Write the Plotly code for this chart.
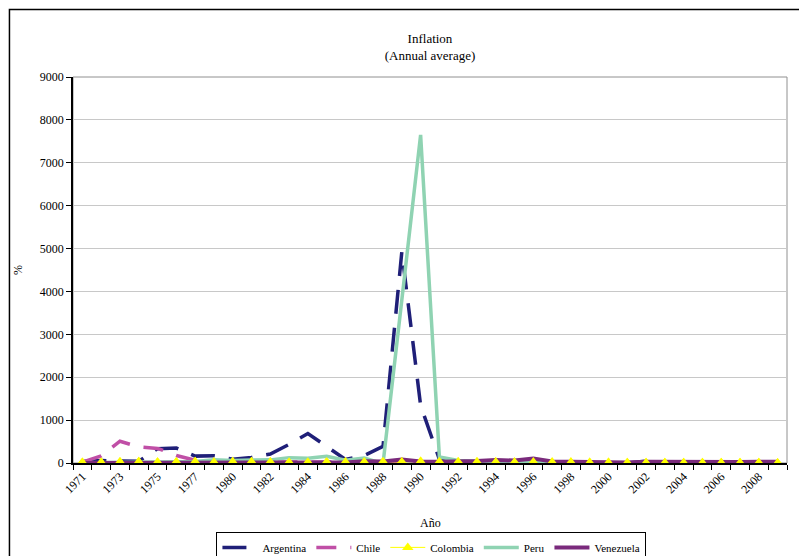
import plotly.graph_objects as go

# categories (1979 is not in the source series)
years = [str(y) for y in range(1971, 1979)] + [str(y) for y in range(1980, 2010)]
tick_labels = ["1971", "", "1973", "", "1975", "", "1977", "",
               "1980", "", "1982", "", "1984", "", "1986", "", "1988", "",
               "1990", "", "1992", "", "1994", "", "1996", "", "1998", "",
               "2000", "", "2002", "", "2004", "", "2006", "", "2008", ""]

argentina = [34.7, 58.5, 43.8, 40.1, 335.0, 347.5, 160.4, 169.8,
             87.6, 131.3, 209.7, 433.7, 688.0, 385.4, 81.9, 174.8, 387.7, 4923.3, 1343.9, 84.0,
             17.5, 7.4, 3.9, 1.6, 0.1, 0.3, 0.7, -1.8, -0.7, -1.5, 41.0, 3.7, 6.1, 12.3, 9.8, 8.5, 7.2, 7.7]
chile = [22.1, 163.4, 508.1, 375.9, 340.7, 174.3, 63.5, 30.3,
         31.2, 9.5, 20.7, 23.1, 23.0, 26.4, 17.4, 21.5, 12.7, 21.4, 27.3, 18.7,
         12.7, 12.2, 8.9, 8.2, 6.6, 6.0, 4.7, 2.3, 4.5, 2.6, 2.8, 1.1, 2.4, 3.7, 2.6, 7.8, 7.1, -1.4]
colombia = [14.1, 14.0, 25.0, 26.9, 17.9, 25.9, 29.3, 17.8,
            26.5, 26.4, 24.0, 16.6, 18.3, 22.5, 20.9, 24.0, 28.1, 26.1, 32.4, 26.8,
            25.1, 22.6, 22.6, 19.5, 21.6, 17.7, 16.7, 9.2, 8.8, 7.6, 7.0, 6.5, 5.5, 4.9, 4.5, 5.7, 7.7, 2.0]
peru = [7.7, 4.3, 13.8, 19.2, 24.0, 44.7, 32.4, 73.7,
        59.7, 72.7, 72.9, 125.1, 111.5, 158.3, 62.9, 114.5, -15.0, 3800.0, 7649.6, 139.2,
        56.7, 39.5, 15.4, 10.2, 11.8, 6.5, 6.0, 3.7, 3.7, -0.1, 1.5, 2.5, 3.5, 1.5, 1.1, 3.9, 6.7, 0.2]
venezuela = [2.6, 3.5, 5.1, 11.6, 8.0, 6.9, 8.1, 7.1,
             19.6, 11.0, 7.9, 7.0, 18.3, 5.7, 12.7, 40.3, 35.5, 81.0, 36.5, 31.0,
             31.9, 45.9, 70.8, 56.6, 103.2, 37.6, 29.9, 20.0, 13.4, 12.3, 31.2, 27.1, 19.2, 14.4, 17.0, 22.5, 31.9, 26.9]

serif = "Liberation Serif"
yellow = "#FFFF00"

fig = go.Figure()
fig.add_trace(go.Scatter(x=years, y=argentina, name="Argentina", mode="lines",
                         line=dict(color="#1F1F78", width=3.5, dash="24px,14px")))
fig.add_trace(go.Scatter(x=years, y=chile, name="Chile", mode="lines",
                         line=dict(color="#C04FA6", width=3.5, dash="20px,14px")))
fig.add_trace(go.Scatter(x=years, y=colombia, name="Colombia", mode="lines+markers",
                         line=dict(color=yellow, width=1),
                         marker=dict(symbol="triangle-up", size=10, color=yellow)))
fig.add_trace(go.Scatter(x=years, y=peru, name="Peru", mode="lines",
                         line=dict(color="#8FD3B2", width=3.5)))
fig.add_trace(go.Scatter(x=years, y=venezuela, name="Venezuela", mode="lines",
                         line=dict(color="#7A2A7C", width=4)))
# triangles sit on top of the other lines
fig.add_trace(go.Scatter(x=years, y=colombia, mode="markers", showlegend=False, hoverinfo="skip",
                         marker=dict(symbol="triangle-up", size=10, color=yellow)))

# page body has an 8px margin, so the figure is a bit smaller than the window
fig.update_layout(
    width=799, height=548,
    margin=dict(l=65, r=20, t=69, b=93),
    paper_bgcolor="white", plot_bgcolor="white",
    font=dict(family=serif, size=12, color="black"),
    title=dict(text="Inflation<br>(Annual average)", x=0.5, xref="paper",
               y=0.936, yanchor="top", font=dict(family=serif, size=13)),
    showlegend=True,
    # container ref so the half-hidden legend doesn't shrink the plot
    legend=dict(orientation="h", x=0.502, xanchor="center",
                yref="container", y=0.044, yanchor="top",
                bordercolor="black", borderwidth=1, bgcolor="white",
                font=dict(family=serif, size=11), itemwidth=35, tracegroupgap=0),
    shapes=[
        dict(type="rect", xref="paper", yref="paper", x0=0, x1=1, y0=0, y1=1,
             line=dict(color="#909090", width=1), layer="below"),
        dict(type="rect", xref="paper", yref="paper", x0=-0.089, x1=1.2, y0=-0.4, y1=1.175,
             line=dict(color="black", width=1.5)),
    ],
    annotations=[
        dict(text="Año", xref="paper", yref="paper", x=0.5, y=-0.156,
             xanchor="center", yanchor="middle", showarrow=False, font=dict(size=12)),
    ],
)
fig.update_xaxes(type="category", range=[-0.5, len(years) - 0.5],
                 tickvals=years, ticktext=tick_labels, tickson="boundaries",
                 tickangle=-45, ticks="outside", ticklen=5, tickcolor="black",
                 showline=True, linecolor="black", linewidth=1.5, showgrid=False,
                 automargin=False)
fig.update_yaxes(range=[0, 9000], dtick=1000, ticks="outside", ticklen=5, tickcolor="black",
                 showline=True, linecolor="black", linewidth=1.5, zeroline=False,
                 gridcolor="#C8C8C8", gridwidth=1, automargin=False,
                 title=dict(text="%", font=dict(size=12)))

fig.write_html("out.html")
